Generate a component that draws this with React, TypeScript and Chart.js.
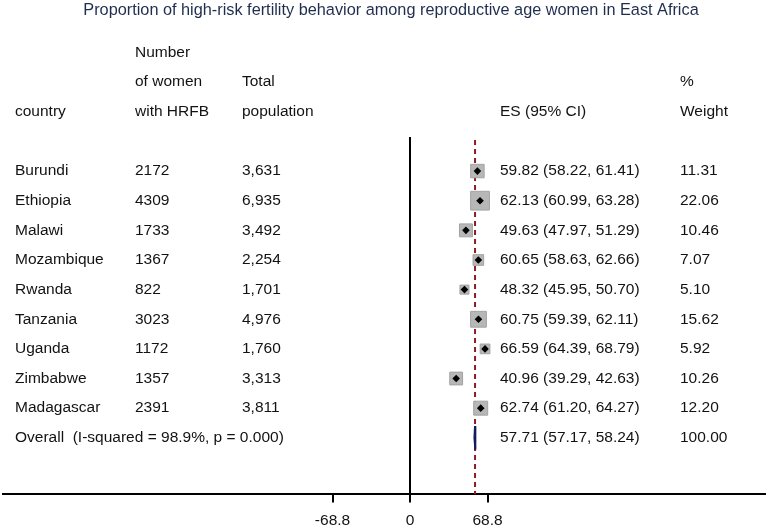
import React, { useEffect, useRef } from "react";
import { Chart, registerables } from "chart.js";

Chart.register(...registerables);

const chartTitle = "Proportion of high-risk fertility behavior among reproductive age women in East Africa";
const countries = ["Burundi", "Ethiopia", "Malawi", "Mozambique", "Rwanda", "Tanzania", "Uganda", "Zimbabwe", "Madagascar"];
const hrfbCounts = ["2172", "4309", "1733", "1367", "822", "3023", "1172", "1357", "2391"];
const totalPopulation = ["3,631", "6,935", "3,492", "2,254", "1,701", "4,976", "1,760", "3,313", "3,811"];
const esValues = [59.82, 62.13, 49.63, 60.65, 48.32, 60.75, 66.59, 40.96, 62.74];
const ciLower = [58.22, 60.99, 47.97, 58.63, 45.95, 59.39, 64.39, 39.29, 61.2];
const ciUpper = [61.41, 63.28, 51.29, 62.66, 50.7, 62.11, 68.79, 42.63, 64.27];
const weights = [11.31, 22.06, 10.46, 7.07, 5.1, 15.62, 5.92, 10.26, 12.2];
const overallLabel = "Overall  (I-squared = 98.9%, p = 0.000)";
const overallES = 57.71;
const overallLower = 57.17;
const overallUpper = 58.24;
const overallWeight = 100.0;
const xTickValues = [-68.8, 0, 68.8];
const headerLines = [
  ["", "Number", "", "", ""],
  ["", "of women", "Total", "", "%"],
  ["country", "with HRFB", "population", "ES (95% CI)", "Weight"],
];

const FONT = "'Liberation Sans', Arial, sans-serif";
const FS = 15.5;
const TEXT_COLOR = "#121212";
const COL_X = [15, 135, 242, 500, 680];

const fmt = (v: number) => v.toFixed(2);

export default function App() {
  const ref = useRef<HTMLCanvasElement | null>(null);

  useEffect(() => {
    if (!ref.current) return;
    const overallRow = countries.length;

    // CI whiskers as broken line segments
    const ciData: any[] = [];
    countries.forEach((_, i) => {
      ciData.push({ x: ciLower[i], y: i });
      ciData.push({ x: ciUpper[i], y: i });
      ciData.push({ x: null, y: null });
    });

    const textPlugin = {
      id: "forestText",
      afterDraw(chart: any) {
        const ctx = chart.ctx;
        const y = chart.scales.y;
        ctx.save();
        ctx.font = `16.3px ${FONT}`;
        ctx.fillStyle = "#1f2d4f";
        ctx.textAlign = "center";
        ctx.textBaseline = "middle";
        ctx.fillText(chartTitle, 391, 11);

        ctx.font = `${FS}px ${FONT}`;
        ctx.fillStyle = TEXT_COLOR;
        ctx.textAlign = "left";
        headerLines.forEach((line, li) => {
          const py = y.getPixelForValue(li - headerLines.length - 1);
          line.forEach((t, ci) => {
            if (t) ctx.fillText(t, COL_X[ci], py);
          });
        });
        countries.forEach((c, i) => {
          const py = y.getPixelForValue(i);
          ctx.fillText(c, COL_X[0], py);
          ctx.fillText(hrfbCounts[i], COL_X[1], py);
          ctx.fillText(totalPopulation[i], COL_X[2], py);
          ctx.fillText(`${fmt(esValues[i])} (${fmt(ciLower[i])}, ${fmt(ciUpper[i])})`, COL_X[3], py);
          ctx.fillText(fmt(weights[i]), COL_X[4], py);
        });
        const po = y.getPixelForValue(overallRow);
        ctx.fillText(overallLabel, COL_X[0], po);
        ctx.fillText(`${fmt(overallES)} (${fmt(overallLower)}, ${fmt(overallUpper)})`, COL_X[3], po);
        ctx.fillText(fmt(overallWeight), COL_X[4], po);
        ctx.restore();
      },
    };

    const chart = new Chart(ref.current, {
      type: "scatter",
      data: {
        datasets: [
          {
            type: "line",
            data: [
              { x: overallES, y: -1.05 },
              { x: overallES, y: 10.91 },
            ],
            borderColor: "#8b1c24",
            borderWidth: 2,
            borderDash: [5, 4],
            pointRadius: 0,
            order: 5,
          } as any,
          {
            type: "scatter",
            data: esValues.map((v, i) => ({ x: v, y: i })),
            pointStyle: "rect",
            pointRadius: weights.map((w) => (4.0 * Math.sqrt(w)) / Math.SQRT2),
            backgroundColor: "#b7b7b7",
            borderColor: "#a3a3a3",
            borderWidth: 1,
            order: 4,
          } as any,
          {
            type: "line",
            data: ciData,
            borderColor: "#000",
            borderWidth: 1,
            pointRadius: 0,
            spanGaps: false,
            order: 3,
          } as any,
          {
            type: "scatter",
            data: esValues.map((v, i) => ({ x: v, y: i })),
            pointStyle: "rectRot",
            pointRadius: 3.8,
            backgroundColor: "#000",
            borderColor: "#000",
            borderWidth: 0,
            order: 2,
          } as any,
          {
            type: "line",
            data: [
              { x: overallLower, y: overallRow },
              { x: overallES, y: overallRow - 0.4 },
              { x: overallUpper, y: overallRow },
              { x: overallES, y: overallRow + 0.4 },
              { x: overallLower, y: overallRow },
            ],
            borderColor: "#141a5e",
            backgroundColor: "#141a5e",
            borderWidth: 2,
            fill: true,
            pointRadius: 0,
            tension: 0,
            order: 1,
          } as any,
        ],
      },
      options: {
        animation: false,
        responsive: false,
        devicePixelRatio: 1,
        layout: { autoPadding: false, padding: { left: 3, right: 3, top: 137, bottom: -11 } },
        plugins: {
          legend: { display: false },
          tooltip: { enabled: false },
          title: { display: false },
        },
        scales: {
          x: {
            type: "linear",
            min: -361.3,
            max: 315.1,
            afterBuildTicks: (axis: any) => {
              axis.ticks = xTickValues.map((v) => ({ value: v }));
            },
            border: { display: true, color: "#000", width: 2 },
            grid: {
              drawOnChartArea: true,
              color: (c: any) => (c.tick && c.tick.value === 0 ? "#000" : "rgba(0,0,0,0)"),
              lineWidth: 2,
              tickLength: 8,
              tickColor: "#000",
              tickWidth: 2,
            },
            ticks: {
              autoSkip: false,
              maxRotation: 0,
              padding: 9,
              color: TEXT_COLOR,
              font: { family: FONT, size: FS },
              callback: (v: any) => String(v),
            },
          },
          y: {
            type: "linear",
            reverse: true,
            min: -1.15,
            max: 10.91,
            display: false,
          },
        },
      },
      plugins: [textPlugin],
    } as any);
    return () => chart.destroy();
  }, []);

  return (
    <div style={{ position: "absolute", left: 0, top: 0, width: 768, height: 528, background: "#fff" }}>
      <canvas ref={ref} width={768} height={528} />
    </div>
  );
}
